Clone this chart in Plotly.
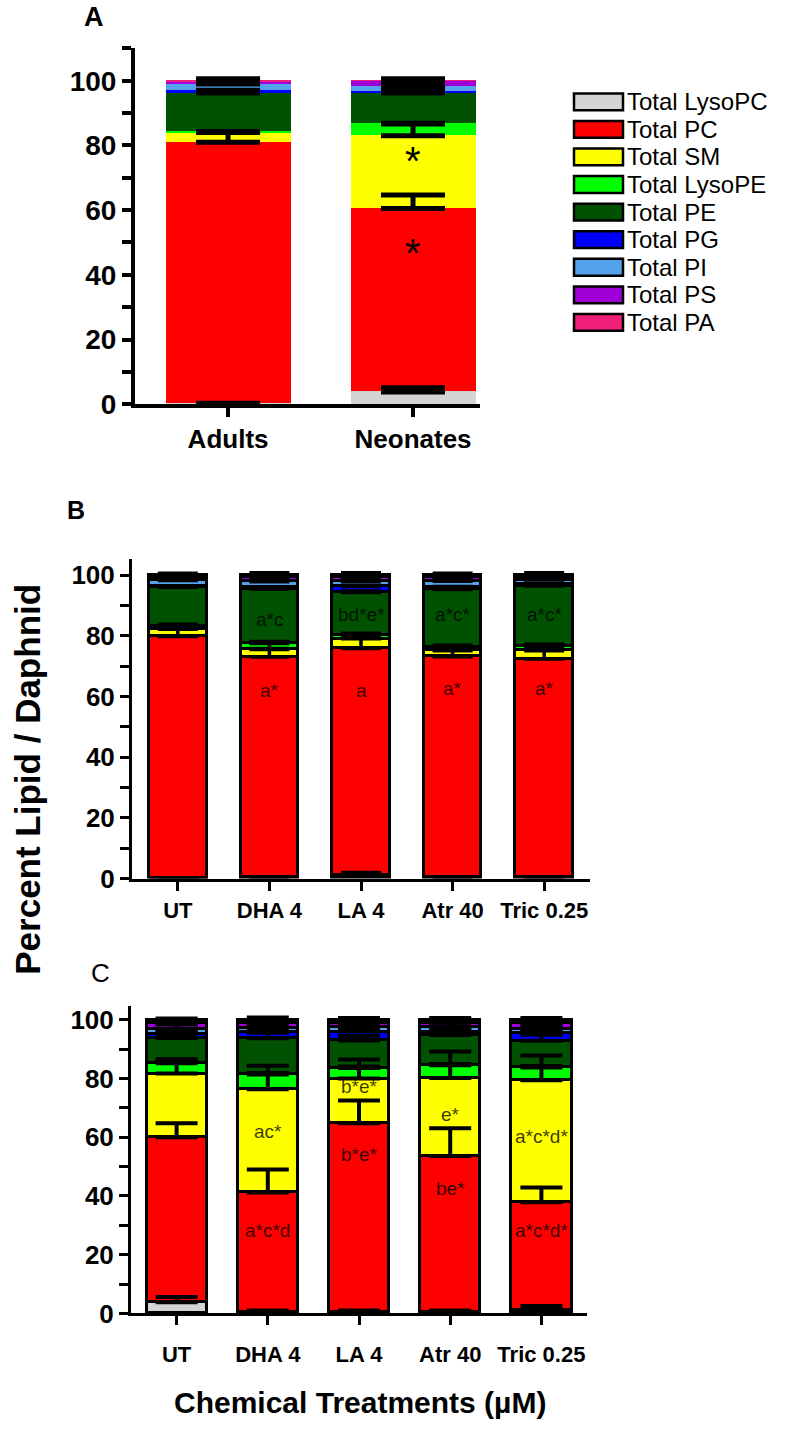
import numpy as np
import plotly.graph_objects as go

W, H = 790, 1448

# ---------------- data ----------------
series = ["Total LysoPC", "Total PC", "Total SM", "Total LysoPE", "Total PE",
          "Total PG", "Total PI", "Total PS", "Total PA"]
colors = ["#D4D4D4", "#FF0000", "#FFFF00", "#00FF00", "#005200",
          "#0000FF", "#55A2EC", "#A000D8", "#F0207A"]

cats_a = ["Adults", "Neonates"]
A_pct = {
    "Total LysoPC": [0.2, 3.8],
    "Total PC":     [80.8, 56.7],
    "Total SM":     [3.0, 22.5],
    "Total LysoPE": [0.2, 3.8],
    "Total PE":     [12.0, 9.4],
    "Total PG":     [0.8, 0.5],
    "Total PI":     [2.0, 1.5],
    "Total PS":     [0.7, 1.6],
    "Total PA":     [0.3, 0.2],
}
A_err = {
    "Total LysoPC": [0.1, 1.3],
    "Total PC":     [3.0, 4.2],
    "Total SM":     [0.1, 3.6],
    "Total LysoPE": [0.1, 0.1],
    "Total PE":     [0.2, 0.2],
    "Total PG":     [0.1, 0.1],
    "Total PI":     [0.2, 0.2],
    "Total PS":     [0.2, 0.3],
    "Total PA":     [0.6, 0.6],
}

cats_bc = ["UT", "DHA 4", "LA 4", "Atr 40", "Tric 0.25"]
B_pct = {
    "Total LysoPC": [0.2, 0.3, 1.0, 0.3, 0.3],
    "Total PC":     [79.6, 72.7, 74.8, 72.8, 72.1],
    "Total SM":     [2.4, 2.5, 3.2, 2.0, 2.7],
    "Total LysoPE": [0.8, 2.0, 1.0, 1.2, 1.3],
    "Total PE":     [13.0, 17.9, 14.3, 19.0, 20.0],
    "Total PG":     [0.3, 0.6, 2.0, 0.8, 0.4],
    "Total PI":     [1.9, 1.8, 1.5, 1.9, 1.6],
    "Total PS":     [1.0, 1.4, 1.5, 1.2, 0.9],
    "Total PA":     [0.8, 0.8, 0.7, 0.8, 0.7],
}
B_err = {
    "Total LysoPC": [0.1, 0.1, 1.0, 0.2, 0.3],
    "Total PC":     [3.8, 5.0, 5.0, 3.5, 4.5],
    "Total SM":     [0.3, 0.3, 0.4, 0.3, 0.3],
    "Total LysoPE": [0.8, 0.6, 0.8, 0.6, 0.8],
    "Total PE":     [0.4, 0.5, 0.5, 0.4, 0.5],
    "Total PG":     [0.2, 0.2, 0.3, 0.2, 0.2],
    "Total PI":     [0.4, 0.5, 0.3, 0.5, 0.4],
    "Total PS":     [0.3, 0.3, 0.3, 0.3, 0.3],
    "Total PA":     [0.6, 0.8, 0.8, 0.6, 0.8],
}

C_pct = {
    "Total LysoPC": [3.8, 0.5, 0.5, 0.5, 1.0],
    "Total PC":     [56.2, 40.7, 64.3, 53.1, 36.9],
    "Total SM":     [21.7, 35.2, 15.2, 26.6, 41.5],
    "Total LysoPE": [3.5, 5.0, 3.6, 4.3, 4.4],
    "Total PE":     [8.6, 12.3, 9.4, 10.3, 9.1],
    "Total PG":     [1.2, 2.0, 3.0, 1.0, 2.5],
    "Total PI":     [2.0, 1.5, 1.5, 1.8, 1.6],
    "Total PS":     [1.8, 1.8, 1.5, 1.4, 1.8],
    "Total PA":     [1.2, 1.0, 1.0, 1.0, 1.2],
}
C_err = {
    "Total LysoPC": [1.8, 0.5, 0.5, 0.5, 1.5],
    "Total PC":     [4.8, 7.8, 7.7, 9.5, 5.0],
    "Total SM":     [5.0, 8.0, 6.5, 9.0, 8.5],
    "Total LysoPE": [0.5, 0.5, 0.5, 0.5, 0.5],
    "Total PE":     [2.0, 2.0, 1.5, 2.5, 2.0],
    "Total PG":     [1.0, 1.0, 1.0, 1.0, 1.0],
    "Total PI":     [1.5, 1.0, 1.0, 1.5, 1.0],
    "Total PS":     [1.0, 1.0, 1.0, 1.0, 1.0],
    "Total PA":     [0.5, 0.8, 0.6, 0.6, 0.6],
}

# significance letters: (category, y position, text)
B_labels = [("DHA 4", 62, "a*"), ("DHA 4", 85.5, "a*c"),
            ("LA 4", 62, "a"), ("LA 4", 87, "bd*e*"),
            ("Atr 40", 62.5, "a*"), ("Atr 40", 87, "a*c*"),
            ("Tric 0.25", 62.5, "a*"), ("Tric 0.25", 87, "a*c*")]
C_labels = [("DHA 4", 62, "ac*"), ("DHA 4", 28.3, "a*c*d"),
            ("LA 4", 77.3, "b*e*"), ("LA 4", 54.2, "b*e*"),
            ("Atr 40", 67.6, "e*"), ("Atr 40", 42.4, "be*"),
            ("Tric 0.25", 60.3, "a*c*d*"), ("Tric 0.25", 28.3, "a*c*d*")]
A_labels = [("Neonates", 75.2, "*"), ("Neonates", 46.8, "*")]

FONT = "Liberation Sans, Arial, sans-serif"

fig = go.Figure()


def add_panel(cats, pct, err, xa, ya, bar_w, line_w, err_th, cap_w):
    for s, c in zip(series, colors):
        fig.add_trace(go.Bar(
            x=cats, y=pct[s], name=s, xaxis=xa, yaxis=ya, width=bar_w,
            marker=dict(color=c, line=dict(color="black", width=line_w)),
            showlegend=False, hoverinfo="skip"))
    tops = np.cumsum(np.array([pct[s] for s in series]), axis=0)
    for i, s in enumerate(series):
        fig.add_trace(go.Scatter(
            x=cats, y=tops[i], xaxis=xa, yaxis=ya, mode="markers",
            marker=dict(size=1, color="rgba(0,0,0,0)"),
            error_y=dict(type="data", symmetric=False, array=err[s],
                         arrayminus=[0] * len(cats), color="black",
                         thickness=err_th, width=cap_w),
            showlegend=False, hoverinfo="skip"))


add_panel(cats_a, A_pct, A_err, "x", "y", 0.676, 0, 5, 32)
add_panel(cats_bc, B_pct, B_err, "x2", "y2", 0.63, 3, 3.5, 20)
add_panel(cats_bc, C_pct, C_err, "x3", "y3", 0.66, 3.5, 4, 21)


def px_x(p):
    return p / W


def px_y(p):
    return 1 - p / H


def xax(dom, rng, lw, fsize, standoff):
    return dict(domain=[px_x(dom[0]), px_x(dom[1])], range=rng, type="category",
                showline=True, linecolor="black", linewidth=lw,
                ticks="outside", tickwidth=lw, ticklen=9, tickcolor="black",
                tickfont=dict(family=FONT, size=fsize, color="black", weight="bold"),
                showgrid=False, zeroline=False, fixedrange=True,
                ticklabelstandoff=standoff)


def yax(dom, top, lw, fsize, minor_vals):
    return dict(domain=[px_y(dom[1]), px_y(dom[0])], range=[0, top],
                tickvals=[0, 20, 40, 60, 80, 100],
                showline=True, linecolor="black", linewidth=lw,
                ticks="outside", tickwidth=lw, ticklen=9, tickcolor="black",
                minor=dict(tickvals=minor_vals, ticks="outside", ticklen=9,
                           tickwidth=lw, tickcolor="black"),
                tickfont=dict(family=FONT, size=fsize, color="black", weight="bold"),
                showgrid=False, zeroline=False, fixedrange=True)


fig.update_layout(
    width=W, height=H, margin=dict(l=0, r=0, t=0, b=0),
    paper_bgcolor="white", plot_bgcolor="white",
    barmode="stack", bargap=0,
    showlegend=False,
    font=dict(family=FONT, color="black"),
    xaxis=dict(anchor="y", **xax((135, 480), [-0.503, 1.362], 4, 26, 0)),
    yaxis=dict(anchor="x", **yax((48, 408), 110, 4, 28, [10, 30, 50, 70, 90, 110])),
    xaxis2=dict(anchor="y2", **xax((132, 590), [-0.5, 4.5], 3, 22, 1)),
    yaxis2=dict(anchor="x2", **yax((565, 888), 105.2, 3, 26, [10, 30, 50, 70, 90])),
    xaxis3=dict(anchor="y3", **xax((131, 587), [-0.5, 4.5], 3, 22, 10)),
    yaxis3=dict(anchor="x3", **yax((1017, 1328), 104.7, 3, 26, [10, 30, 50, 70, 90])),
)

annotations = []
LBL = dict(family=FONT, size=19, color="rgba(0,0,0,0.78)")
for cat, yv, t in B_labels:
    annotations.append(dict(x=cat, y=yv, xref="x2", yref="y2", text=t, showarrow=False,
                            font=LBL))
for cat, yv, t in C_labels:
    annotations.append(dict(x=cat, y=yv, xref="x3", yref="y3", text=t, showarrow=False,
                            font=LBL))
for cat, yv, t in A_labels:
    annotations.append(dict(x=cat, y=yv, xref="x", yref="y", text=t, showarrow=False,
                            font=dict(family=FONT, size=40, color="black")))


def paper_text(txt, xx, yy, size, **kw):
    d = dict(x=px_x(xx), y=px_y(yy), xref="paper", yref="paper", text=txt,
             showarrow=False, xanchor="center", yanchor="middle",
             font=dict(family=FONT, size=size, color="black"))
    d.update(kw)
    return d


# panel letters
annotations.append(paper_text("<b>A</b>", 94, 16, 27))
annotations.append(paper_text("<b>B</b>", 76, 515, 25))
annotations.append(paper_text("C", 100, 984, 26))

# axis titles
annotations.append(paper_text("<b>Percent Lipid / Daphnid</b>", 28, 788, 35, textangle=-90))
annotations.append(paper_text("<b>Chemical Treatments (µM)</b>", 360, 1418, 30))

# legend (manual, large swatches)
shapes = []
for i, (s, c) in enumerate(zip(series, colors)):
    yc = 102 + i * 27.9
    shapes.append(dict(type="rect", xref="paper", yref="paper",
                       x0=px_x(574), x1=px_x(623), y0=px_y(yc + 8.5), y1=px_y(yc - 8.5),
                       fillcolor=c, line=dict(color="black", width=2.5)))
    annotations.append(paper_text(s, 625, yc, 24, xanchor="left"))

fig.update_layout(annotations=annotations, shapes=shapes)

fig.write_html("out.html", config={"displayModeBar": False},
               post_script="document.body.style.margin='0px';document.body.style.padding='0px';")
